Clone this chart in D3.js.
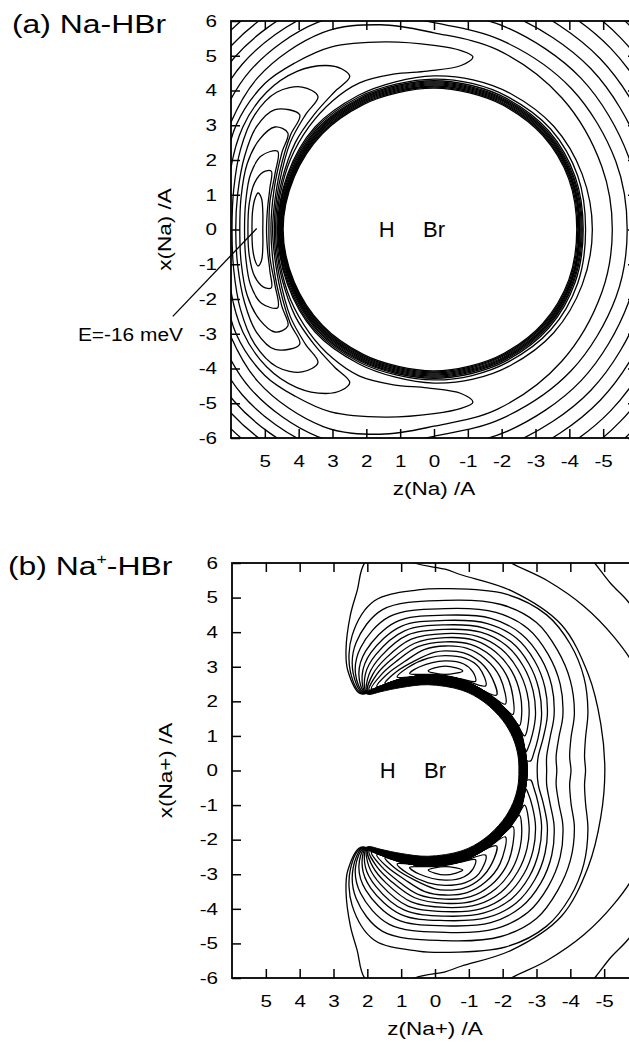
<!DOCTYPE html>
<html>
<head>
<meta charset="utf-8">
<script src="https://cdn.jsdelivr.net/npm/d3@7"></script>
<style>
  body { margin: 0; background: #fff; }
  svg text { font-family: "Liberation Sans", Arial, sans-serif; fill: #000; }
</style>
</head>
<body>
<svg id="fig" width="629" height="1042"></svg>
<script>
// tick values (Angstrom)
const zTicks = [5, 4, 3, 2, 1, 0, -1, -2, -3, -4, -5]
const xTicks = [6, 5, 4, 3, 2, 1, 0, -1, -2, -3, -4, -5, -6]

// ---------- (a) Na-HBr ----------
// contours, upper half only (surface is symmetric in x)
// wall rings in polar form: angle from +z axis (deg), radius (A)
const wallAngles = [0, 20, 40, 60, 75, 90, 105, 120, 140, 160, 180]
const wallA = [
  [4.46, 4.40, 4.30, 4.16, 4.08, 4.07, 4.07, 4.12, 4.20, 4.24, 4.22],
  [4.48, 4.42, 4.33, 4.19, 4.11, 4.10, 4.10, 4.15, 4.23, 4.27, 4.25],
  [4.50, 4.44, 4.36, 4.22, 4.14, 4.13, 4.13, 4.18, 4.26, 4.30, 4.28],
  [4.52, 4.46, 4.39, 4.25, 4.17, 4.16, 4.16, 4.21, 4.29, 4.32, 4.30],
  [4.54, 4.48, 4.42, 4.28, 4.20, 4.19, 4.19, 4.24, 4.32, 4.34, 4.32],
  [4.56, 4.50, 4.45, 4.31, 4.23, 4.22, 4.22, 4.27, 4.35, 4.37, 4.35],
  [4.58, 4.52, 4.48, 4.34, 4.26, 4.25, 4.25, 4.30, 4.38, 4.40, 4.38],
  [4.60, 4.55, 4.51, 4.37, 4.29, 4.28, 4.29, 4.34, 4.42, 4.44, 4.41],
  [4.61, 4.58, 4.55, 4.41, 4.33, 4.33, 4.35, 4.40, 4.50, 4.52, 4.48],
  [4.62, 4.61, 4.59, 4.46, 4.40, 4.42, 4.46, 4.52, 4.62, 4.66, 4.68]
]
// outer rings round the whole molecule
const outerAngles = [0, 20, 40, 60, 75, 90, 110, 135, 160, 180]
const outerA = [
  [6.75, 6.72, 6.80, 6.55, 6.10, 5.66, 5.50, 5.35, 5.28, 5.27],
  [7.05, 7.02, 7.10, 6.88, 6.42, 5.95, 5.80, 5.74, 5.72, 5.71],
  [7.35, 7.32, 7.40, 7.18, 6.75, 6.30, 6.20, 6.15, 6.12, 6.10],
  [7.65, 7.62, 7.70, 7.48, 7.08, 6.68, 6.58, 6.55, 6.52, 6.50],
  [7.95, 7.92, 8.00, 7.80, 7.42, 7.05, 6.98, 6.95, 6.92, 6.90],
  [8.28, 8.25, 8.32, 8.14, 7.78, 7.45, 7.40, 7.38, 7.35, 7.30],
  [8.62, 8.60, 8.66, 8.50, 8.16, 7.88, 7.84, 7.80, 7.78, 7.75],
  [9.00, 8.98, 9.04, 8.88, 8.56, 8.30, 8.26, 8.24, 8.22, 8.20]
]
// crescents round the H-side well, [z, x], outer side, tip, inner side
const wellA = [
  [[5.38,0],[5.36,0.55],[5.28,0.92],[5.2,1.05],[5.1,0.9],[5.06,0.5],[5.06,0]],
  [[5.5,0],[5.46,0.75],[5.3,1.35],[5.05,1.65],[4.81,1.68],[4.85,1.2],[4.92,0.6],[4.95,0]],
  [[5.6,0],[5.56,0.85],[5.42,1.6],[5.1,2.12],[4.62,2.25],[4.7,1.6],[4.85,0.8],[4.88,0]],
  [[5.74,0],[5.7,0.95],[5.52,1.9],[5.15,2.6],[4.7,2.95],[4.32,2.78],[4.5,2.2],[4.72,1.2],[4.82,0]],
  [[5.86,0],[5.8,1.05],[5.6,2.1],[5.25,2.95],[4.7,3.45],[3.97,3.3],[4.25,2.7],[4.55,1.7],[4.72,0.7],[4.77,0]],
  [[5.97,0],[5.92,1.15],[5.72,2.3],[5.3,3.3],[4.65,3.95],[3.9,4.1],[3.43,3.83],[3.8,3.3],[4.25,2.5],[4.58,1.3],[4.7,0.5],[4.72,0]],
  [[6.1,0],[6.05,1.5],[5.65,2.95],[4.95,3.95],[4.05,4.55],[3.2,4.72],[2.72,4.62],[2.49,4.4],[2.95,3.95],[3.55,3.3],[4.1,2.5],[4.5,1.4],[4.66,0.5],[4.68,0]],
  [[6.3,0],[6.22,1.5],[5.85,3.0],[5.0,4.2],[4.1,4.8],[3.05,5.25],[1.45,5.4],[0.0,5.3],[-0.8,5.15],[-1.15,4.97],[-0.8,4.72],[0.2,4.56],[1.2,4.47],[2.2,4.22],[3.0,3.7],[3.7,2.95],[4.25,2.0],[4.55,1.0],[4.63,0.4],[4.64,0]]
]
const noteA = { from: [7.72, -2.5], to: [5.24, 0.03], label: [7.42, -3.2], text: 'E=-16 meV' }

// ---------- (b) Na+-HBr ----------
// repulsive wall band: outer edge (x=0 up to the H-side tip) and inner edge back
const bandOuterB = [[-2.72,0],[-2.67,0.5],[-2.5,1.15],[-2.12,1.72],[-1.52,2.22],[-0.8,2.58],[-0.3,2.7],[0.2,2.74],[1.0,2.62],[1.6,2.42],[2.05,2.24]]
const bandInnerB = [[1.95,2.2],[1.6,2.28],[1.0,2.4],[0.2,2.48],[-0.8,2.32],[-1.45,1.98],[-2.0,1.45],[-2.3,0.95],[-2.45,0.45],[-2.48,0]]
// closed loops round the upper minimum (mirrored for the lower one)
const wellB = [
  [[0.2,2.88],[-0.3,3.02],[-0.82,2.88],[-0.3,2.78]],
  [[0.75,2.8],[0.45,3.0],[-0.3,3.17],[-0.85,3.08],[-1.12,2.85],[-1.2,2.58],[-0.8,2.64],[-0.3,2.74],[0.2,2.78]],
  [[1.12,2.7],[0.8,2.98],[0.2,3.25],[-0.3,3.32],[-0.9,3.24],[-1.3,2.98],[-1.5,2.45],[-0.8,2.63],[-0.3,2.73],[0.2,2.77],[0.8,2.7]],
  [[1.48,2.52],[1.15,2.85],[0.6,3.17],[0.0,3.42],[-0.3,3.46],[-0.85,3.4],[-1.35,3.12],[-1.7,2.65],[-1.82,2.18],[-1.52,2.26],[-0.8,2.62],[-0.3,2.72],[0.2,2.76],[1.0,2.65]],
  [[1.72,2.43],[1.4,2.8],[0.9,3.15],[0.3,3.5],[-0.3,3.6],[-0.95,3.53],[-1.5,3.22],[-1.92,2.7],[-2.08,1.92],[-1.52,2.26],[-0.8,2.62],[-0.3,2.72],[0.2,2.76],[1.0,2.65]],
  [[1.88,2.36],[1.58,2.78],[1.15,3.15],[0.5,3.58],[-0.3,3.72],[-1.05,3.65],[-1.65,3.32],[-2.1,2.78],[-2.3,2.15],[-2.3,1.62],[-2.12,1.74],[-1.52,2.25],[-0.8,2.61],[-0.3,2.72],[0.2,2.76],[1.0,2.64],[1.6,2.44]],
  [[1.95,2.33],[1.72,2.78],[1.3,3.2],[0.6,3.68],[-0.3,3.84],[-1.15,3.77],[-1.8,3.42],[-2.28,2.85],[-2.52,2.2],[-2.56,1.6],[-2.5,1.3],[-2.35,1.42],[-2.12,1.74],[-1.52,2.25],[-0.8,2.61],[-0.3,2.72],[0.2,2.76],[1.0,2.64],[1.6,2.44]],
  [[1.99,2.31],[1.84,2.78],[1.45,3.25],[0.7,3.8],[-0.3,3.96],[-1.25,3.88],[-1.95,3.52],[-2.45,2.92],[-2.72,2.25],[-2.78,1.6],[-2.65,1.0],[-2.52,1.17],[-2.12,1.74],[-1.52,2.25],[-0.8,2.61],[-0.3,2.72],[0.2,2.76],[1.0,2.64],[1.6,2.44]],
  [[2.01,2.29],[1.95,2.78],[1.6,3.3],[0.8,3.92],[-0.3,4.08],[-1.35,4.0],[-2.1,3.62],[-2.62,3.0],[-2.9,2.3],[-2.97,1.6],[-2.88,1.05],[-2.75,0.65],[-2.67,0.52],[-2.52,1.17],[-2.12,1.74],[-1.52,2.25],[-0.8,2.61],[-0.3,2.72],[0.2,2.76],[1.0,2.64],[1.6,2.44]],
  [[2.03,2.28],[2.06,2.78],[1.75,3.35],[0.9,4.04],[-0.3,4.21],[-1.45,4.12],[-2.25,3.72],[-2.78,3.08],[-3.07,2.35],[-3.15,1.6],[-3.05,0.95],[-2.92,0.5],[-2.83,0.28],[-2.7,0.3],[-2.67,0.52],[-2.52,1.17],[-2.12,1.74],[-1.52,2.25],[-0.8,2.61],[-0.3,2.72],[0.2,2.76],[1.0,2.64],[1.6,2.44]]
]
// contours wrapping round the Br side: outer side from the H-side tip to x=0
const wrapB = [
  [[2.05,2.27],[2.15,2.78],[1.9,3.4],[1.0,4.17],[-0.3,4.34],[-1.55,4.25],[-2.4,3.83],[-2.95,3.16],[-3.25,2.4],[-3.32,1.6],[-3.2,0.95],[-3.05,0.4],[-3.02,0]],
  [[2.07,2.26],[2.25,2.78],[2.05,3.45],[1.15,4.3],[-0.3,4.49],[-1.65,4.4],[-2.55,3.95],[-3.13,3.25],[-3.45,2.45],[-3.52,1.6],[-3.4,0.95],[-3.3,0.4],[-3.3,0]],
  [[2.1,2.25],[2.35,2.8],[2.2,3.55],[1.35,4.45],[-0.3,4.68],[-1.8,4.57],[-2.75,4.1],[-3.35,3.35],[-3.7,2.5],[-3.78,1.6],[-3.66,0.95],[-3.58,0.4],[-3.6,0]],
  [[2.13,2.24],[2.42,2.82],[2.33,3.7],[1.55,4.65],[-0.3,4.92],[-1.95,4.8],[-3.0,4.28],[-3.62,3.48],[-4.0,2.6],[-4.12,1.65],[-4.02,0.95],[-3.98,0.4],[-4.02,0]],
  [[2.16,2.23],[2.5,2.85],[2.45,3.9],[1.8,4.9],[0.5,5.22],[-0.3,5.26],[-2.1,5.1],[-3.3,4.5],[-4.0,3.65],[-4.4,2.7],[-4.52,1.7],[-4.45,0.95],[-4.42,0.4],[-4.45,0]],
  [[2.2,2.22],[2.58,2.9],[2.63,3.5],[2.5,4.5],[2.3,5.2],[2.08,6.0],[1.4,6.45],[0.6,6.0],[-0.3,5.82],[-0.77,5.66],[-2.25,5.2],[-3.73,4.22],[-4.53,2.78],[-4.9,1.35],[-5.02,0]]
]
// far-field contours in the Br-side corners (open)
const farB = [
  [[-1.6,6.4],[-2.25,6.0],[-3.3,5.5],[-4.4,4.75],[-5.3,3.85],[-5.9,3.0],[-6.3,1.8],[-6.45,0]],
  [[-4.3,6.5],[-4.72,6.0],[-5.2,5.4],[-5.71,4.88],[-6.3,4.0],[-6.7,2.5],[-6.9,0]]
]
const atoms = [{ name: 'H', z: 1.4 }, { name: 'Br', z: 0.0 }]

// ---------- drawing ----------
const svg = d3.select('#fig')
const SX = 1.25   // the printed font is wider than Arial

const mirror = pts => pts.map(d => [d[0], -d[1]])
const symLoop = pts => pts.concat(mirror(pts).reverse().slice(1, -1))
const symOpen = pts => pts.concat(mirror(pts).reverse().slice(1))
const polar = (angles, r) => angles.map((a, i) => {
  const t = a * Math.PI / 180
  return [r[i] * Math.cos(t), r[i] * Math.sin(t)]
})
const fmt = d => String(d)   // plain hyphen minus, as printed

function panel(cfg) {
  const zs = d3.scaleLinear().domain([6, -6]).range([cfg.left, cfg.right])
  const xs = d3.scaleLinear().domain([-6, 6]).range([cfg.bottom, cfg.top])
  const g = svg.append('g')

  const clipId = 'clip-' + cfg.id
  svg.append('clipPath').attr('id', clipId)
    .append('rect')
    .attr('x', cfg.left).attr('y', cfg.top)
    .attr('width', cfg.right - cfg.left).attr('height', cfg.bottom - cfg.top)

  const plot = g.append('g').attr('clip-path', 'url(#' + clipId + ')')
  const closed = d3.line().x(d => zs(d[0])).y(d => xs(d[1])).curve(d3.curveCatmullRomClosed.alpha(0.5))
  const open = d3.line().x(d => zs(d[0])).y(d => xs(d[1])).curve(d3.curveCatmullRom.alpha(0.5))

  if (cfg.band) {
    plot.append('path')
      .attr('d', closed(symLoop(cfg.band)))
      .attr('fill', '#000').attr('stroke', '#000').attr('stroke-width', 1)
  }

  plot.selectAll('path.loop')
    .data(cfg.loops)
    .join('path').attr('class', 'loop')
    .attr('d', d => closed(d))
    .attr('fill', 'none').attr('stroke', '#000').attr('stroke-width', 1.3)

  plot.selectAll('path.open')
    .data(cfg.opens || [])
    .join('path').attr('class', 'open')
    .attr('d', d => open(d))
    .attr('fill', 'none').attr('stroke', '#000').attr('stroke-width', 1.3)

  // frame and inward ticks on all four sides
  g.append('rect')
    .attr('x', cfg.left).attr('y', cfg.top)
    .attr('width', cfg.right - cfg.left).attr('height', cfg.bottom - cfg.top)
    .attr('fill', 'none').attr('stroke', '#000').attr('stroke-width', 1.8)

  const bottomAx = g.append('g').attr('transform', 'translate(0,' + cfg.bottom + ')')
    .call(d3.axisBottom(zs).tickValues(zTicks).tickSize(-9).tickPadding(17).tickFormat(fmt))
  const topAx = g.append('g').attr('transform', 'translate(0,' + cfg.top + ')')
    .call(d3.axisTop(zs).tickValues(zTicks).tickSize(-9).tickFormat(''))
  const leftAx = g.append('g').attr('transform', 'translate(' + cfg.left + ',0)')
    .call(d3.axisLeft(xs).tickValues(xTicks).tickSize(-9).tickPadding(0).tickFormat(fmt))
  const rightAx = g.append('g').attr('transform', 'translate(' + cfg.right + ',0)')
    .call(d3.axisRight(xs).tickValues(xTicks).tickSize(-9).tickFormat(''))

  ;[bottomAx, topAx, leftAx, rightAx].forEach(ax => {
    ax.select('.domain').remove()
    ax.selectAll('line').attr('stroke', '#000').attr('stroke-width', 1.5)
  })
  bottomAx.selectAll('text')
    .attr('font-size', 16.5).attr('font-family', null)
    .attr('transform', 'scale(' + SX + ',1)')
  leftAx.selectAll('text')
    .attr('font-size', 16.5).attr('font-family', null)
    .attr('x', 0)
    .attr('transform', 'translate(-14,0) scale(' + SX + ',1)')

  // axis titles
  g.append('text')
    .attr('transform', 'translate(' + zs(0) + ',' + (cfg.bottom + 57) + ') scale(' + SX + ',1)')
    .attr('text-anchor', 'middle').attr('font-size', 18)
    .text(cfg.zLabel)
  g.append('text')
    .attr('transform', 'translate(' + (cfg.left - 60) + ',' + xs(0) + ') rotate(-90) scale(' + SX + ',1)')
    .attr('text-anchor', 'middle').attr('font-size', 18)
    .text(cfg.xLabel)

  // panel title
  const title = g.append('text')
    .attr('transform', 'translate(' + cfg.titleX + ',' + (cfg.top + 12) + ') scale(' + SX + ',1)')
    .attr('font-size', 25.5)
  cfg.title.forEach(part => {
    const ts = title.append('tspan').text(part.t)
    if (part.sup) ts.attr('font-size', 14).attr('dy', -11)
    if (part.after) ts.attr('dy', 11)
  })

  // atom labels (printed upright, not stretched)
  g.selectAll('text.atom')
    .data(atoms)
    .join('text').attr('class', 'atom')
    .attr('x', d => zs(d.z)).attr('y', xs(0) + 7)
    .attr('text-anchor', 'middle').attr('font-size', 22)
    .text(d => d.name)

  if (cfg.note) {
    const n = cfg.note
    g.append('line')
      .attr('x1', zs(n.from[0])).attr('y1', xs(n.from[1]))
      .attr('x2', zs(n.to[0])).attr('y2', xs(n.to[1]))
      .attr('stroke', '#000').attr('stroke-width', 1.3)
    g.append('text')
      .attr('transform', 'translate(' + zs(n.label[0]) + ',' + xs(n.label[1]) + ') scale(1.13,1)')
      .attr('text-anchor', 'end').attr('font-size', 18.5)
      .text(n.text)
  }
}

// (a)
const loopsA = []
wallA.forEach(r => loopsA.push(symLoop(polar(wallAngles, r))))
outerA.forEach(r => loopsA.push(symLoop(polar(outerAngles, r))))
wellA.forEach(c => loopsA.push(symLoop(c)))

panel({
  id: 'a', left: 231, right: 637, top: 21, bottom: 438,
  titleX: 12,
  title: [{ t: '(a) Na-HBr' }],
  zLabel: 'z(Na) /A', xLabel: 'x(Na) /A',
  loops: loopsA,
  note: noteA
})

// (b)
const loopsB = []
wellB.forEach(c => { loopsB.push(c); loopsB.push(mirror(c)) })
wrapB.forEach(c => loopsB.push(symLoop(bandOuterB.slice(0, -1).concat(c))))

panel({
  id: 'b', left: 232, right: 638, top: 563, bottom: 978,
  titleX: 8,
  title: [{ t: '(b) Na' }, { t: '+', sup: true }, { t: '-HBr', after: true }],
  zLabel: 'z(Na+) /A', xLabel: 'x(Na+) /A',
  band: bandOuterB.concat(bandInnerB),
  loops: loopsB,
  opens: farB.map(symOpen)
})
</script>
</body>
</html>
